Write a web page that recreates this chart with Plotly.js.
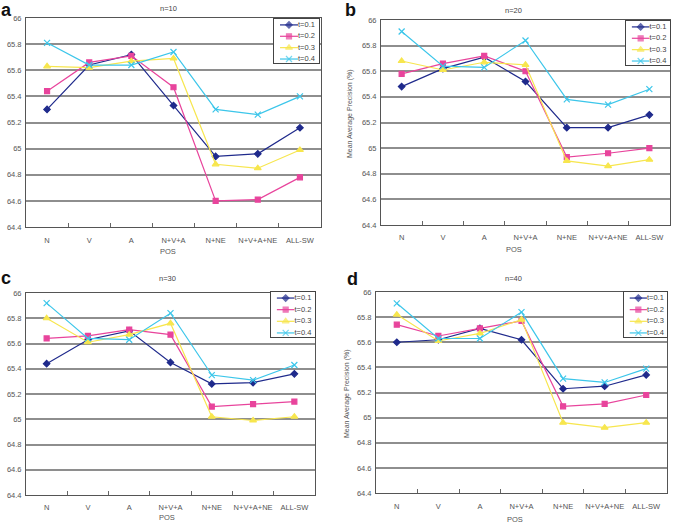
<!DOCTYPE html>
<html><head><meta charset="utf-8">
<script src="https://cdn.plot.ly/plotly-3.0.1.min.js"></script>
<style>html,body{margin:0;padding:0;background:#fff}#chart{width:674px;height:526px}</style>
</head><body><div id="chart"></div>
<script>
const categories = ['N','V','A','N+V+A','N+NE','N+V+A+NE','ALL-SW'];
const seriesNames = ['t=0.1','t=0.2','t=0.3','t=0.4'];
const panelTitles = ['n=10','n=20','n=30','n=40'];
const panelLetters = ['a','b','c','d'];
const yTicks = [64.4,64.6,64.8,65,65.2,65.4,65.6,65.8,66];
const yTickLabels = ['64.4','64.6','64.8','65','65.2','65.4','65.6','65.8','66'];
const xTitle = 'POS';
const yTitle = 'Mean Average Precision (%)';

// n=10
const n10_t01 = [65.30,65.64,65.72,65.33,64.94,64.96,65.16];
const n10_t02 = [65.44,65.66,65.71,65.47,64.60,64.61,64.78];
const n10_t03 = [65.63,65.62,65.67,65.69,64.88,64.85,64.99];
const n10_t04 = [65.81,65.64,65.64,65.74,65.30,65.26,65.40];
// n=20
const n20_t01 = [65.48,65.62,65.71,65.52,65.16,65.16,65.26];
const n20_t02 = [65.58,65.66,65.72,65.60,64.93,64.96,65.00];
const n20_t03 = [65.68,65.61,65.67,65.65,64.90,64.86,64.91];
const n20_t04 = [65.91,65.64,65.63,65.84,65.38,65.34,65.46];
// n=30
const n30_t01 = [65.44,65.63,65.70,65.45,65.28,65.29,65.36];
const n30_t02 = [65.64,65.66,65.71,65.67,65.10,65.12,65.14];
const n30_t03 = [65.80,65.61,65.67,65.76,65.02,64.99,65.02];
const n30_t04 = [65.92,65.64,65.63,65.84,65.35,65.31,65.43];
// n=40
const n40_t01 = [65.60,65.62,65.71,65.62,65.23,65.25,65.34];
const n40_t02 = [65.74,65.65,65.71,65.77,65.09,65.11,65.18];
const n40_t03 = [65.82,65.61,65.67,65.78,64.96,64.92,64.96];
const n40_t04 = [65.91,65.63,65.63,65.84,65.31,65.28,65.39];

const panelData = [
  [n10_t01,n10_t02,n10_t03,n10_t04],
  [n20_t01,n20_t02,n20_t03,n20_t04],
  [n30_t01,n30_t02,n30_t03,n30_t04],
  [n40_t01,n40_t02,n40_t03,n40_t04]
];

const colors = ['#1f2a8c','#e8449c','#f7e64e','#3cc6ea'];
const symbols = ['diamond','square','triangle-up','x-thin-open'];
const msizes = [5,5,6,6];

const W = 674, H = 526;
const FONT = 'Liberation Sans, Arial, sans-serif';
// plot boxes in pixels: [left, top, right, bottom]
const boxes = [[26,18,321,227],[381,20,670,225],[26,293,315,495],[376,292,667,493]];
const legBoxes = [[274,19,319,63],[626,21,670,65],[271,292,315,337],[624,292,667,337]];
const tickStandoff = [6,5,5,6];

const px = v => v / W, py = v => 1 - v / H;

const traces = [];
const layout = {
  width: W, height: H,
  margin: {l:0,r:0,t:0,b:0},
  paper_bgcolor: '#fff', plot_bgcolor: '#fff',
  showlegend: false,
  font: {family: FONT, size: 7, color: '#555'},
  annotations: []
};

for (let p = 0; p < 4; p++) {
  const ax = p === 0 ? '' : String(p + 1);
  const b = boxes[p];
  layout['xaxis' + ax] = {
    domain: [px(b[0]), px(b[2])], anchor: 'y' + ax,
    type: 'category', categoryorder: 'array', categoryarray: categories,
    range: [-0.5, 6.5], showgrid: false, zeroline: false,
    ticks: 'inside', tickson: 'boundaries', ticklen: 4, tickcolor: '#666', tickwidth: 1,
    showline: true, mirror: true, linecolor: '#555', linewidth: 1,
    tickangle: 0, automargin: false,
    tickfont: {family: FONT, size: 7.5, color: '#555'},
    ticklabelstandoff: tickStandoff[p], fixedrange: true
  };
  layout['yaxis' + ax] = {
    domain: [py(b[3]), py(b[1])], anchor: 'x' + ax,
    range: [64.4, 66], tickmode: 'array', tickvals: yTicks, ticktext: yTickLabels,
    showgrid: true, gridcolor: '#8e8e8e', gridwidth: 2, zeroline: false,
    ticks: '', showline: true, mirror: true, linecolor: '#555', linewidth: 1,
    automargin: false,
    tickfont: {family: FONT, size: 7.5, color: '#555'},
    ticklabelstandoff: 2, fixedrange: true
  };
  panelData[p].forEach((vals, s) => {
    traces.push({
      type: 'scatter', mode: 'lines+markers',
      x: categories, y: vals, name: seriesNames[s],
      xaxis: 'x' + ax, yaxis: 'y' + ax,
      line: {color: colors[s], width: 1.2},
      marker: {symbol: symbols[s], size: msizes[s], color: colors[s], line: {color: colors[s], width: 1.2}},
      cliponaxis: false, hoverinfo: 'skip'
    });
  });

  // legend subplot
  const lx = String(p + 5);
  const lb = legBoxes[p];
  layout['xaxis' + lx] = {
    domain: [px(lb[0]), px(lb[2])], anchor: 'y' + lx, range: [0, 45],
    showgrid: false, zeroline: false, showticklabels: false, ticks: '',
    showline: true, mirror: true, linecolor: '#444', linewidth: 1, fixedrange: true
  };
  layout['yaxis' + lx] = {
    domain: [py(lb[3]), py(lb[1])], anchor: 'x' + lx, range: [3.35, -0.52],
    showgrid: false, zeroline: false, showticklabels: false, ticks: '',
    showline: true, mirror: true, linecolor: '#444', linewidth: 1, fixedrange: true
  };
  seriesNames.forEach((nm, s) => {
    traces.push({
      type: 'scatter', mode: 'lines+markers+text',
      x: [6, 15, 24], y: [s, s, s], text: ['', '', nm], textposition: 'middle right',
      textfont: {family: FONT, size: 7.5, color: '#444'},
      xaxis: 'x' + lx, yaxis: 'y' + lx,
      line: {color: colors[s], width: 1.2},
      marker: {symbol: symbols[s], size: [0, msizes[s], 0], color: colors[s], line: {color: colors[s], width: 1.2}},
      cliponaxis: false, hoverinfo: 'skip'
    });
  });
}

// panel titles, letters, axis titles
const titlePos = [[168,8],[513,10],[167,278],[513,278]];
const letterPos = [[6,10],[350,10],[6,278],[352,279]];
const posPos = [[168,251],[514,250],[167,517],[515,519]];
for (let p = 0; p < 4; p++) {
  layout.annotations.push({text: panelTitles[p], xref: 'paper', yref: 'paper',
    x: px(titlePos[p][0]), y: py(titlePos[p][1]), xanchor: 'center', yanchor: 'middle',
    showarrow: false, font: {family: FONT, size: 7.5, color: '#444'}});
  layout.annotations.push({text: '<b>' + panelLetters[p] + '</b>', xref: 'paper', yref: 'paper',
    x: px(letterPos[p][0]), y: py(letterPos[p][1]), xanchor: 'center', yanchor: 'middle',
    showarrow: false, font: {family: FONT, size: 18, color: '#111'}});
  layout.annotations.push({text: xTitle, xref: 'paper', yref: 'paper',
    x: px(posPos[p][0]), y: py(posPos[p][1]), xanchor: 'center', yanchor: 'middle',
    showarrow: false, font: {family: FONT, size: 7.5, color: '#555'}});
}
layout.annotations.push({text: yTitle, xref: 'paper', yref: 'paper', x: px(350), y: py(114),
  xanchor: 'center', yanchor: 'middle', textangle: -90, showarrow: false,
  font: {family: FONT, size: 7, color: '#555'}});
layout.annotations.push({text: yTitle, xref: 'paper', yref: 'paper', x: px(347), y: py(393),
  xanchor: 'center', yanchor: 'middle', textangle: -90, showarrow: false,
  font: {family: FONT, size: 7, color: '#555'}});

Plotly.newPlot('chart', traces, layout, {displayModeBar: false});
</script>
</body></html>
